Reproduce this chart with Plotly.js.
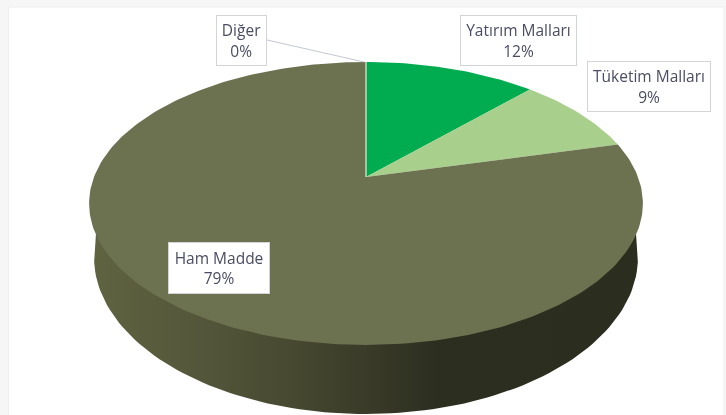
<!DOCTYPE html>
<html>
<head>
<meta charset="utf-8">
<script src="https://cdn.plot.ly/plotly-3.0.1.min.js"></script>
<style>html,body{margin:0;padding:0;background:#fff;overflow:hidden}#chart{width:726px;height:415px;filter:blur(0.5px)}</style>
</head>
<body>
<div id="chart"></div>
<script>
const categories = ['Yatırım Malları', 'Tüketim Malları', 'Ham Madde', 'Diğer'];
const shares = [12, 9, 79, 0];
const sliceColors = ['#00ac4f', '#a8cf8c', '#6c7150', '#6c7150'];

// Projected disc: the far side is compressed, so the apex sits above the ellipse centre.
function topPoint(fraction) {
  const a = 2 * Math.PI * fraction, u = Math.sin(a), v = Math.cos(a);
  const d = 1 + 0.187 * v;
  return [366 + 272 * u / d, (177 - 103.4 * v) / d];
}
function bottomPoint(fraction) {
  const a = 2 * Math.PI * fraction;
  return [366 + 272 * Math.sin(a), 257 - 157 * Math.cos(a)];
}
const total = shares.reduce((s, v) => s + v, 0);
const traces = [];

// side wall: front half of the disc; upper edge tucked under the top face
(function () {
  const xs = [], ys = [], xb = [], yb = [];
  for (let i = 0; i <= 100; i++) {
    const p = topPoint(0.26 + 0.48 * i / 100);
    xs.push(366 + (p[0] - 366) * 0.97); ys.push(p[1] - 6);
    const q = bottomPoint(0.255 + 0.49 * i / 100); xb.push(q[0]); yb.push(q[1]);
  }
  traces.push({
    type: 'scatter', mode: 'lines', x: xs.concat(xb.reverse()), y: ys.concat(yb.reverse()),
    fill: 'toself', line: {width: 0}, hoverinfo: 'skip', showlegend: false,
    fillgradient: {type: 'horizontal', colorscale: [
      [0, '#5f6340'], [0.2, '#53563a'], [0.35, '#484a31'], [0.49, '#3b3c29'], [0.63, '#2c2e20'], [1, '#2b2d1f']]}
  });
})();

// top faces
let start = 0;
shares.forEach((v, i) => {
  const xs = [366], ys = [177];
  const n = Math.max(2, Math.round(v * 3));
  for (let k = 0; k <= n; k++) {
    const p = topPoint((start + v * k / n) / total);
    xs.push(p[0]); ys.push(p[1]);
  }
  xs.push(366); ys.push(177);
  traces.push({
    type: 'scatter', mode: 'lines', x: xs, y: ys, name: categories[i],
    fill: v > 0 ? 'toself' : 'none', fillcolor: sliceColors[i],
    line: v > 0 ? {width: 0, color: sliceColors[i]} : {width: 1.5, color: '#cdd3c0'},
    hoverinfo: 'name', showlegend: false
  });
  start += v;
});

// leader of the 0% label
traces.push({
  type: 'scatter', mode: 'lines', x: [267, 364], y: [40, 62],
  line: {width: 1, color: '#c4c6d2'}, hoverinfo: 'skip', showlegend: false
});

const labelBoxes = [
  {x: 518, y: 40.5, w: 118, h: 52},
  {x: 648.5, y: 86, w: 125, h: 52},
  {x: 218.5, y: 268, w: 103, h: 53},
  {x: 241, y: 40.5, w: 52, h: 52}
];
const annotations = categories.map((c, i) => ({
  xref: 'x', yref: 'y', x: labelBoxes[i].x, y: labelBoxes[i].y,
  text: c + '<br>' + shares[i] + '%', showarrow: false, align: 'center',
  xanchor: 'center', yanchor: 'middle',
  width: labelBoxes[i].w - 3, height: labelBoxes[i].h - 3,
  bgcolor: '#ffffff', bordercolor: '#d2d4d6', borderwidth: 1, borderpad: 0,
  font: {family: '"Open Sans", sans-serif', size: 15.5, color: '#4a4d63'}
}));

const layout = {
  width: 726, height: 415, margin: {l: 0, r: 0, t: 0, b: 0},
  paper_bgcolor: '#f6f6f7', plot_bgcolor: 'rgba(0,0,0,0)',
  showlegend: false,
  xaxis: {range: [0, 726], visible: false, fixedrange: true},
  yaxis: {range: [415, 0], visible: false, fixedrange: true},
  shapes: [{type: 'rect', xref: 'x', yref: 'y', x0: 8.5, x1: 724, y0: 7, y1: 416,
    fillcolor: '#ffffff', line: {color: '#eeeef0', width: 1}, layer: 'below'}],
  annotations: annotations
};
Plotly.newPlot('chart', traces, layout, {displayModeBar: false, staticPlot: true});
</script>
</body>
</html>
